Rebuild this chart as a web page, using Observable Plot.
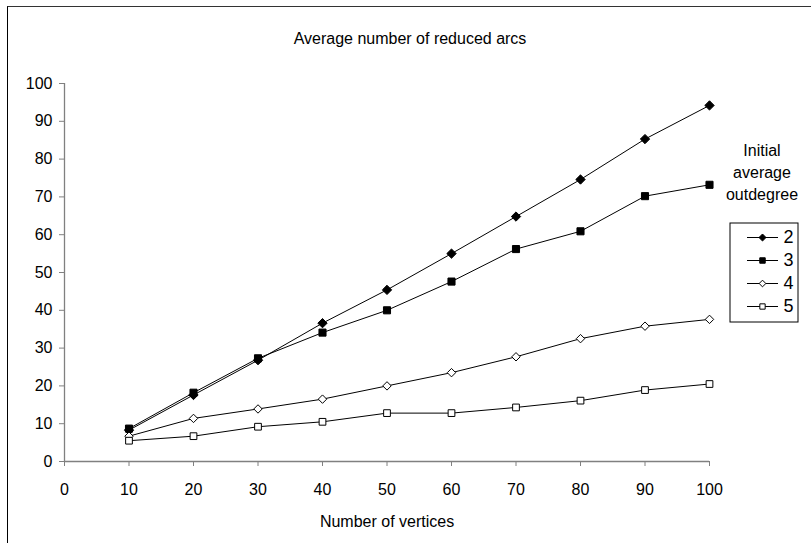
<!DOCTYPE html>
<html>
<head>
<meta charset="utf-8">
<script src="https://cdn.jsdelivr.net/npm/d3@7"></script>
<script src="https://cdn.jsdelivr.net/npm/@observablehq/plot@0.6"></script>
<style>
  html, body { margin: 0; padding: 0; background: #fff; }
  body { width: 811px; height: 543px; position: relative; overflow: hidden; font-family: "Liberation Sans", Arial, sans-serif; }
  #border { position: absolute; left: 7px; top: 6px; width: 804px; height: 537px; border-top: 1px solid #333; border-left: 1px solid #000; box-sizing: border-box; }
  #chart { position: absolute; left: 0; top: 0; }
  #legendTitle { position: absolute; left: 702px; top: 140px; width: 120px; text-align: center; font-size: 16px; line-height: 22px; color: #000; }
  #legend { position: absolute; left: 729px; top: 222px; }
</style>
</head>
<body>
<div id="border"></div>
<div id="chart"></div>
<div id="legendTitle">Initial<br>average<br>outdegree</div>
<div id="legend"></div>
<script>
const vertices = [10, 20, 30, 40, 50, 60, 70, 80, 90, 100];
const seriesNames = ["2", "3", "4", "5"];
const deg2 = [8.3, 17.6, 26.8, 36.6, 45.4, 55.0, 64.8, 74.6, 85.3, 94.2];
const deg3 = [8.7, 18.2, 27.3, 34.1, 40.0, 47.6, 56.2, 60.9, 70.2, 73.2];
const deg4 = [6.7, 11.4, 13.9, 16.5, 20.0, 23.5, 27.7, 32.5, 35.8, 37.6];
const deg5 = [5.5, 6.7, 9.2, 10.5, 12.8, 12.8, 14.3, 16.1, 18.9, 20.5];
const xTicks = [0, 10, 20, 30, 40, 50, 60, 70, 80, 90, 100];
const yTicks = [0, 10, 20, 30, 40, 50, 60, 70, 80, 90, 100];
const title = "Average number of reduced arcs";
const xLabel = "Number of vertices";

const allSeries = [deg2, deg3, deg4, deg5];
const symbolOf = {"2": "diamond2", "3": "square", "4": "diamond2", "5": "square"};
const fillOf = {"2": "black", "3": "black", "4": "white", "5": "white"};
const rOf = {"2": 4.2, "3": 4.0, "4": 3.8, "5": 3.8};

const data = [];
seriesNames.forEach((s, i) => {
  vertices.forEach((v, j) => data.push({series: s, x: v, y: allSeries[i][j]}));
});

const axisGray = "#808080";
const FS = 16;

const chart = Plot.plot({
  width: 811,
  height: 543,
  marginLeft: 64,
  marginRight: 102,
  marginTop: 83,
  marginBottom: 82,
  style: {fontFamily: "Liberation Sans, Arial, sans-serif", fontSize: FS + "px", background: "transparent", color: "black"},
  x: {domain: [0, 100], ticks: xTicks},
  y: {domain: [0, 100], ticks: yTicks},
  marks: [
    Plot.axisX({ticks: xTicks, tickSize: 5, tickPadding: 17, stroke: axisGray, fill: "black", label: null, fontSize: FS}),
    Plot.axisY({ticks: yTicks, tickSize: 5, tickPadding: 7, stroke: axisGray, fill: "black", label: null, fontSize: FS}),
    Plot.ruleX([0], {stroke: axisGray, strokeWidth: 1.3}),
    Plot.ruleY([0], {stroke: axisGray, strokeWidth: 1.3}),
    Plot.line(data, {x: "x", y: "y", z: "series", stroke: "black", strokeWidth: 1}),
    ...seriesNames.map(s => Plot.dot(data.filter(d => d.series === s), {
      x: "x", y: "y", symbol: () => symbolOf[s], fill: fillOf[s], stroke: "black", strokeWidth: 1, r: rOf[s]
    })),
    Plot.text([title], {frameAnchor: "top", dy: -51, text: d => d, fontSize: FS, fill: "black", dx: 23}),
    Plot.text([xLabel], {frameAnchor: "bottom", dy: 65, text: d => d, fontSize: FS, fill: "black"})
  ]
});
document.getElementById("chart").appendChild(chart);

const legend = Plot.plot({
  width: 82,
  height: 104,
  margin: 0,
  style: {fontFamily: "Liberation Sans, Arial, sans-serif", fontSize: "17px", background: "transparent", color: "black"},
  x: {type: "identity", axis: null},
  y: {type: "identity", axis: null},
  marks: [
    Plot.frame({stroke: "black", strokeWidth: 1, insetLeft: 0.5, insetTop: 0.5, insetRight: 13.5, insetBottom: 4.5}),
    Plot.ruleY(seriesNames, {y: (d, i) => 15 + 23 * i, x1: 18, x2: 49, stroke: "black", strokeWidth: 1}),
    Plot.dot(seriesNames, {x: 33, y: (d, i) => 15 + 23 * i, symbol: d => symbolOf[d], fill: d => fillOf[d], stroke: "black", strokeWidth: 1, r: d => rOf[d]}),
    Plot.text(seriesNames, {x: 54, y: (d, i) => 15 + 23 * i, text: d => d, textAnchor: "start", fontSize: 18, fill: "black"})
  ]
});
document.getElementById("legend").appendChild(legend);
</script>
</body>
</html>
